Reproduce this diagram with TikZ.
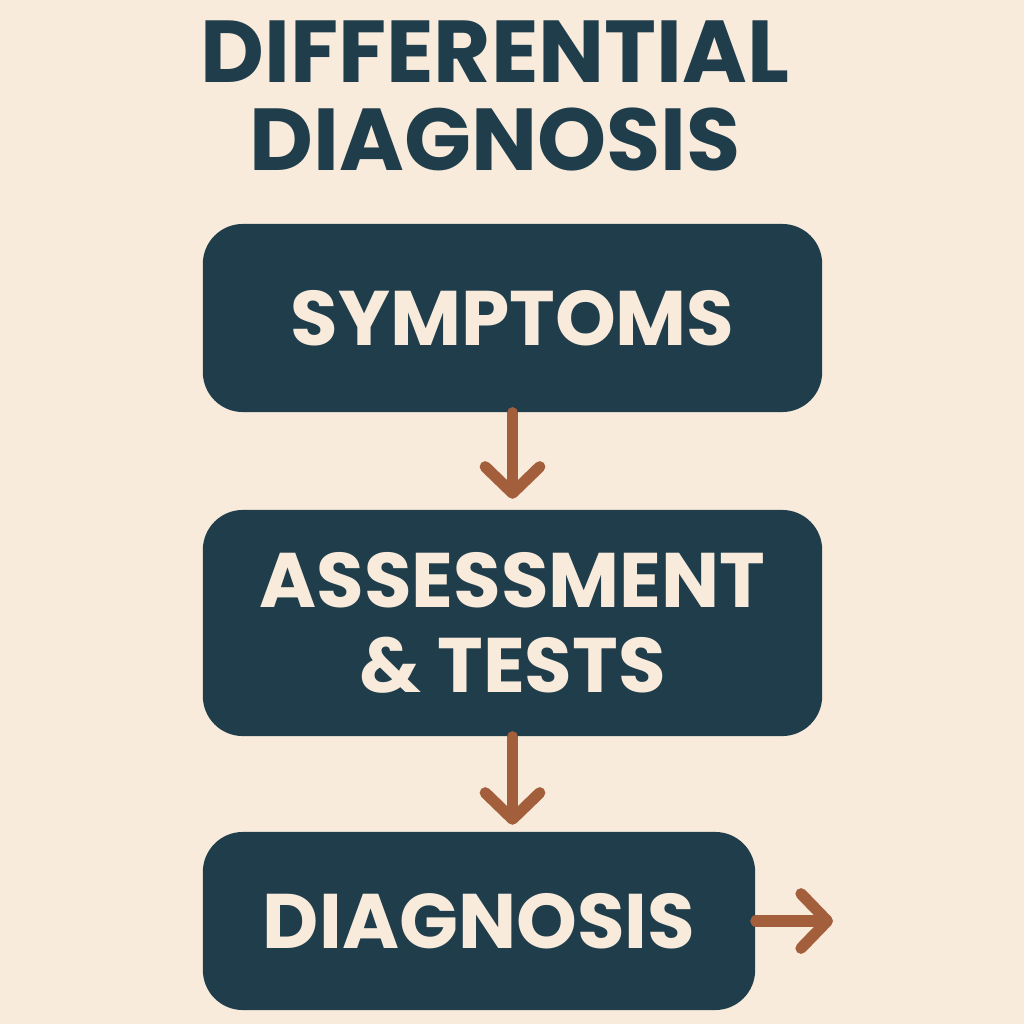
\documentclass[tikz,border=0pt]{standalone}
\usepackage{fontspec}
\setmainfont{Poppins}
\usepackage{tikz}
\usetikzlibrary{arrows.meta}
\definecolor{bgcol}{HTML}{F8EBDC}
\definecolor{boxcol}{HTML}{1F3D4B}
\definecolor{arrcol}{HTML}{A35F3C}
\begin{document}
\begin{tikzpicture}[x=0.01cm,y=-0.01cm,
    stepbox/.style={fill=boxcol,text=bgcol,rounded corners=0.4cm,
        font=\fontsize{22}{24}\selectfont\bfseries,align=center,
        inner sep=0pt},
    flow/.style={draw=arrcol,line width=3.2pt,line cap=round,line join=round,
        -{Straight Barb[length=7.5pt,width=15.5pt,round]}}]
       \fill[bgcol](0,0)rectangle(1024,1024);%背景
       \useasboundingbox(0,0)rectangle(1024,1024);

       \node[text=boxcol,font=\fontsize{25}{25}\selectfont\bfseries,
           align=center,inner sep=0pt](title)at(495,96)
           {DIFFERENTIAL\\DIAGNOSIS};%タイトル

       \node[stepbox,minimum width=6.19cm,minimum height=1.88cm]
           (symp)at(512.5,318){SYMPTOMS};%症状
       \node[stepbox,minimum width=6.19cm,minimum height=2.26cm]
           (assess)at(512.5,623){ASSESSMENT\\\& TESTS};%評価
       \node[stepbox,minimum width=5.52cm,minimum height=1.78cm]
           (diag)at(479,921){DIAGNOSIS};%診断
       \coordinate(out)at(833,921);%右矢印の先

       \draw[flow](symp.south)--++(0,86);%矢印1
       \draw[flow](assess.south)--++(0,88);%矢印2
       \draw[flow](diag.east)--(out);%矢印3
\end{tikzpicture}
\end{document}
